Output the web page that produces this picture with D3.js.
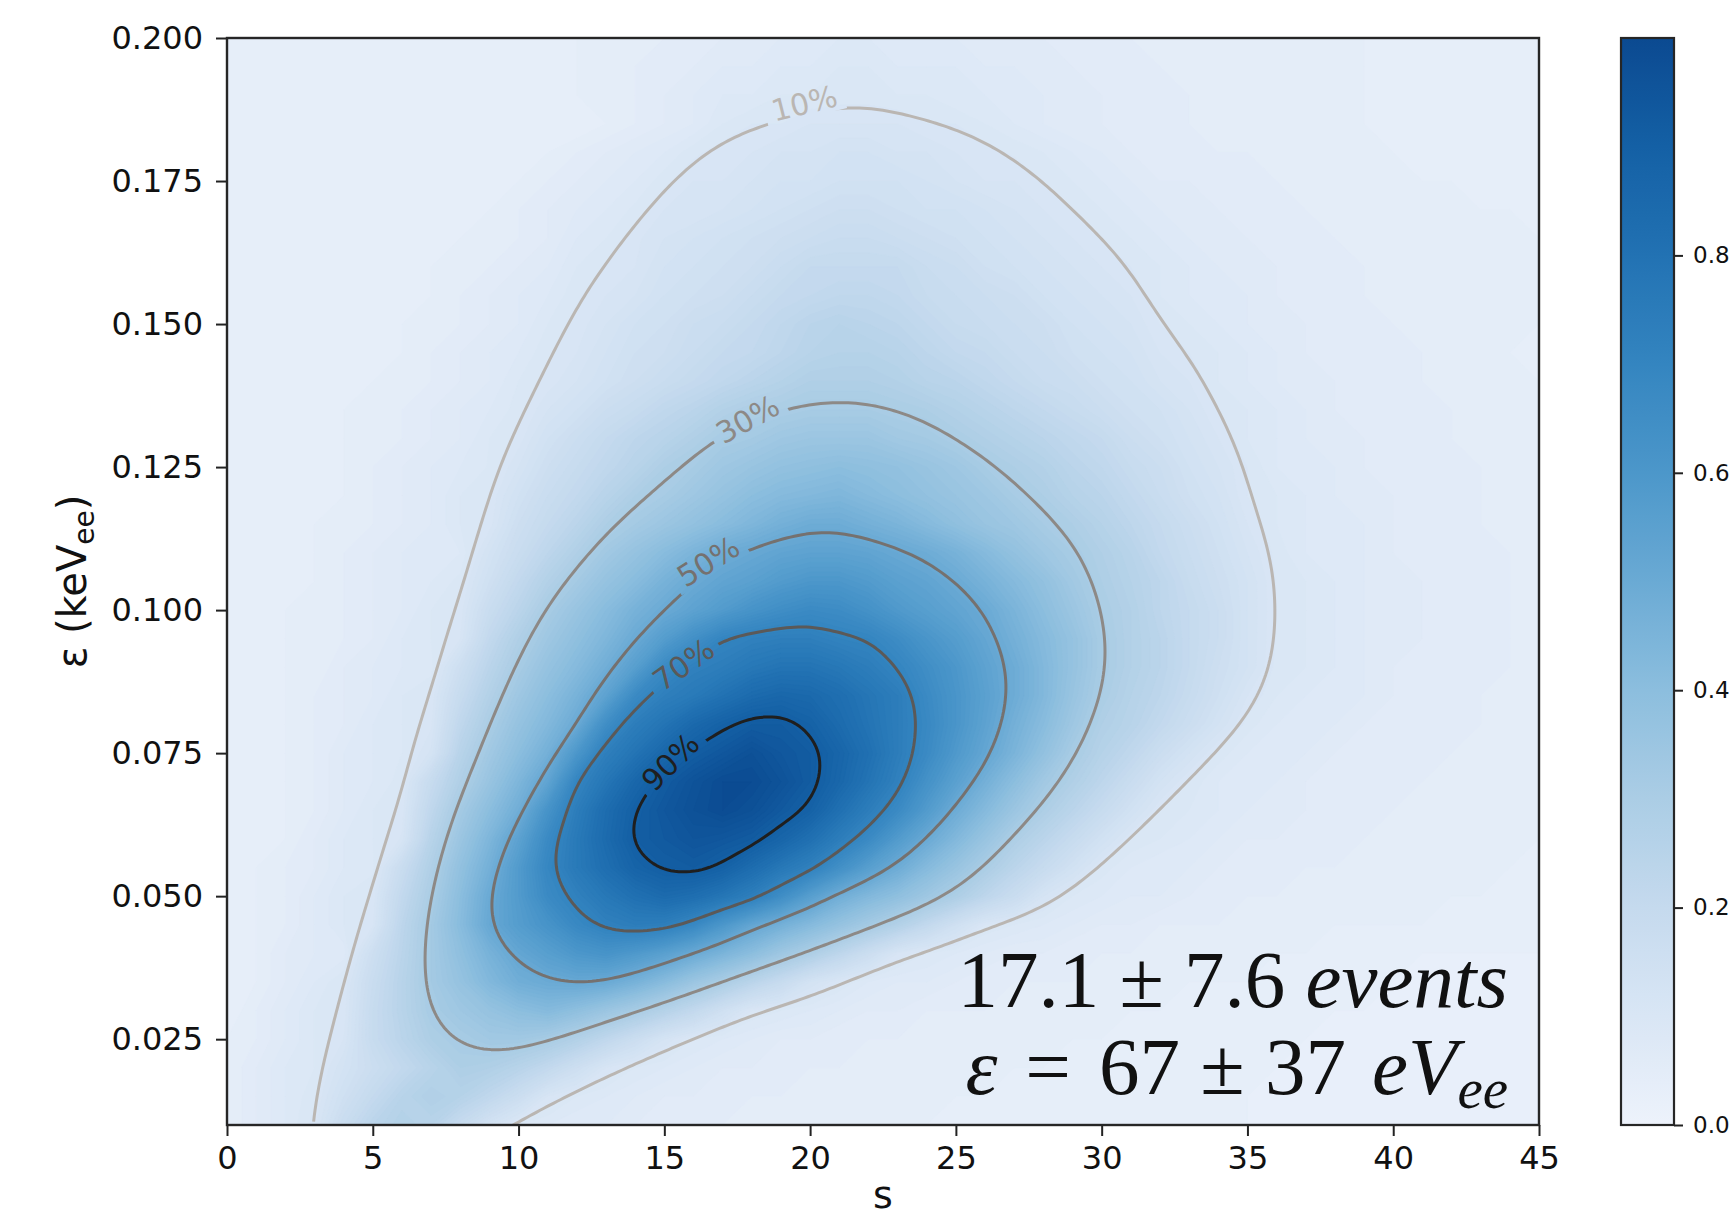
<!DOCTYPE html>
<html>
<head>
<meta charset="utf-8">
<script src="https://cdn.jsdelivr.net/npm/d3@7"></script>
<style>
  body { margin: 0; background: #ffffff; }
  svg text { font-family: "DejaVu Sans", sans-serif; }
</style>
</head>
<body>
<svg id="chart" width="1736" height="1220"></svg>
<script>
// Grid of the likelihood surface: s (columns) and ε in keVee (rows, ascending)
const sGrid = [0,1,2,3,4,5,6,7,8,9,10,11,12,13,14,15,16,17,18,19,20,21,22,23,24,25,26,27,28,29,30,31,32,33,34,35,36,37,38,39,40,41,42,43,44,45];
const epsGrid = [0.010,0.015,0.020,0.025,0.030,0.035,0.040,0.045,0.050,0.055,0.060,0.065,0.070,0.075,0.080,0.085,0.090,0.095,0.100,0.105,0.110,0.115,0.120,0.125,0.130,0.135,0.140,0.145,0.150,0.155,0.160,0.165,0.170,0.175,0.180,0.185,0.190,0.195,0.200];

// Normalised likelihood in percent, one row per ε value, one entry per s value
const likelihoodPct = [
  [4,6,8,10.5,18,24,27,25,19,13,9,8,7,7,6,5,5,5,4,4,4,4,4,4,4,3,3,3,3,3,3,3,3,3,3,3,2,2,2,2,2,2,2,2,2,2],
  [4,6,8,9.7,15,20,25,28,26,22,17,11,9,8,7,6,6,5,5,5,4,4,4,4,4,4,4,3,3,3,3,3,3,3,3,3,2,2,2,2,2,2,2,2,2,2],
  [4,6,8,9,13,17,21,25,29,28,25,21,16,11,9,8,7,6,6,5,5,5,4,4,4,4,4,4,4,3,3,3,3,3,3,3,3,2,2,2,2,2,2,2,2,2],
  [4,5,7,9,11,19,24,29,31,33,33,31,27,22,17,12,9,8,7,6,6,5,5,5,4,4,4,4,4,4,4,3,3,3,3,3,3,3,2,2,2,2,2,2,2,2],
  [3,5,7,9,10.3,19,25,31,34,37,40,42,39,35,31,26,21,15,10,9,8,7,6,6,5,5,5,4,4,4,4,4,4,3,3,3,3,3,3,3,2,2,2,2,2,2],
  [3,4,6,8,10,18,25,32,37,43,48,50,51,50,46,41,35,30,24,19,13,10,8,7,7,6,5,5,5,5,4,4,4,4,4,4,3,3,3,3,3,2,2,2,2,2],
  [3,4,6,7,7.4,16,24,32,39,46,52,56,60,62,59,55,50,45,40,34,29,23,17,11,9,8,7,6,6,5,5,5,4,4,4,4,4,4,3,3,3,3,3,3,3,3],
  [3,4,5,7,9,10.8,23,32,41,51,57,62,68,72,74,73,68,60,52,47,42,37,32,27,21,15,10,9,8,7,6,6,5,5,5,4,4,4,4,4,4,4,3,3,3,3],
  [3,4,5,7,9,10.2,21,30,40,50,58,67,72,77,81,84,82,78,73,65,56,48,43,39,34,29,23,18,12,9,8,7,7,6,5,5,5,4,4,4,4,4,4,4,3,3],
  [3,4,5,6,8,8.6,18,28,38,47,58,69,76,82,88,91,92,89,83,77,72,64,56,49,42,36,30,24,19,14,9.6,8,7,7,6,5,5,5,5,4,4,4,4,4,4,3],
  [3,3,4,6,8,9,11.2,25,35,44,54,67,76,84,91,93,95,94,92,87,81,74,67,58,50,43,36,29,24,19,14,9.9,9,8,7,6,6,5,5,5,4,4,4,4,4,4],
  [3,3,4,5,7,9,10.3,22,32,40,48,62,74,83,90,94,97,99,97,93,89,81,74,67,58,49,42,35,29,24,19,14,9.9,9,8,7,6,6,5,5,5,4,4,4,4,4],
  [3,3,4,5,7,8,9.5,19,28,36,44,53,70,78,86,92,96,99,99,96,92,86,79,72,63,55,47,40,33,28,23,18,13,9.8,8,7,7,6,5,5,5,5,4,4,4,4],
  [3,3,4,5,7,8,9,12.3,25,33,40,47,60,73,79,86,91,94,97,94,92,87,81,74,67,59,52,45,38,31,26,22,17,13,9.6,8,7,7,6,5,5,5,5,4,4,4],
  [3,3,4,5,6,8,9,10.7,22,30,37,43,50,65,74,79,85,89,92,92,89,84,79,74,68,61,54,47,41,34,28,25,21,17,13,9.5,8,7,7,6,5,5,5,5,4,4],
  [3,3,4,5,6,7,9,10.1,19,27,34,40,46,54,67,73,76,80,84,86,85,82,78,74,67,61,55,49,43,36,30,26,23,19,15,11,9,8,7,7,6,5,5,5,4,4],
  [3,3,4,4,6,7,8,8.5,16,24,31,37,42,48,56,67,72,74,77,79,79,77,74,70,65,60,54,49,43,37,31,27,24,20,16,13,9.6,9,8,7,6,5,5,5,5,4],
  [3,3,4,4,5,6,8,9,11,21,28,34,39,44,50,57,64,70,72,73,73,71,70,66,61,57,52,47,42,37,31,27,24,20,17,13,9.9,9,8,7,6,6,5,5,5,4],
  [3,3,4,4,5,6,7,9,10.3,18,24,31,36,41,46,50,54,58,62,65,67,66,63,59,56,53,50,45,40,35,30,27,23,20,17,13,10,9,8,7,6,6,5,5,5,4],
  [3,3,3,4,5,6,7,8,9.4,15,21,27,32,37,41,46,50,53,55,58,60,60,58,55,53,50,46,42,38,33,29,26,23,19,16,13,9.9,9,8,7,6,6,5,5,5,4],
  [3,3,3,4,5,6,7,7.5,8,13,18,23,28,33,37,41,45,49,51,53,54,54,53,51,49,46,42,38,34,31,28,25,21,18,15,12,9.6,8,7,7,6,5,5,5,5,4],
  [3,3,3,4,4,5,6,7,9,10.4,16,20,24,29,32,35,38,41,44,47,49,49,47,45,42,39,36,34,31,29,26,23,20,17,14,11,9,8,7,7,6,5,5,5,4,4],
  [3,3,3,3,4,5,6,7,9,10,14,18,21,25,29,31,34,37,40,42,43,44,42,40,38,36,34,31,29,26,24,21,18,15,13,10,9,8,7,6,6,5,5,5,4,4],
  [3,3,3,3,4,5,6,7,8,9.1,12,16,19,22,25,29,31,34,36,38,39,40,39,38,36,34,31,29,27,24,22,19,17,14,12,10,8,7,7,6,5,5,5,5,4,4],
  [3,3,3,3,4,4,5,6,7,9,10.4,14,17,20,23,25,28,31,32,34,35,35,35,33,32,30,28,26,24,22,20,17,15,13,11,9,8,7,6,6,5,5,5,4,4,4],
  [3,3,3,3,4,4,5,6,7,8,9.5,12,14,17,19,22,24,27,29,30,31,31,31,30,29,27,25,23,21,19,17,15,14,12,10,9,8,7,6,5,5,5,5,4,4,4],
  [3,3,3,3,3,4,4,5,6,7,9,10.4,12,14,16,18,20,22,24,26,28,28,28,27,25,24,22,20,18,17,15,14,12,11,9,8,7,6,6,5,5,5,4,4,4,4],
  [3,3,3,3,3,3,4,5,6,7,8,9.8,11,13,15,16,18,20,21,23,25,26,26,25,23,21,20,18,17,15,14,13,11,10,9,8,7,6,5,5,5,5,4,4,4,3],
  [3,3,3,3,3,3,4,4,5,6,7,9,10.4,12,14,15,17,18,20,22,24,25,24,23,21,19,18,17,16,14,13,12,10,9,8,7,6,6,5,5,5,4,4,4,4,4],
  [3,3,3,3,3,3,3,4,5,6,7,8,9.8,11,12,14,15,16,18,20,21,22,22,21,19,18,17,16,14,13,12,11,9,8,7,7,6,5,5,5,4,4,4,4,4,4],
  [3,3,3,3,3,3,3,4,4,5,6,7,9,10.1,11,13,14,15,16,18,20,20,20,20,18,17,15,14,13,12,11,10,9,8,7,6,6,5,5,5,4,4,4,4,4,4],
  [3,3,3,3,3,3,3,3,4,4,5,6,8,9,10.7,12,13,14,15,16,17,18,18,17,16,15,14,13,12,11,10,9,8,7,6,6,5,5,5,4,4,4,4,4,4,4],
  [3,3,3,3,3,3,3,3,3,4,5,6,7,8,9.3,11,11,12,13,14,15,16,16,15,14,14,13,12,11,10,9,8,7,6,6,5,5,5,4,4,4,4,4,4,4,3],
  [3,3,3,3,3,3,3,3,3,3,4,5,6,7,8,9.6,11,11,12,13,13,14,14,14,13,12,11,11,10,9,8,7,6,6,5,5,5,4,4,4,4,4,4,3,3,3],
  [3,3,3,3,3,3,3,3,3,3,3,4,5,6,7,8,9.7,10.6,11,12,12,13,13,12,12,11,10.5,9.8,9,8,7,6,5,5,5,5,4,4,4,4,4,3,3,3,3,3],
  [3,3,3,3,3,3,3,3,3,3,3,3,3,4,5,6,7,9,10,10,11,11,11,11,10,10,9,8,7,6,6,5,5,5,4,4,4,4,4,4,3,3,3,3,3,3],
  [3,3,3,3,3,3,3,3,3,3,3,3,4,4,5,6,7,8,8,9,9,9.5,9.5,9,9,8,8,7,7,6,6,5,5,5,4,4,4,4,4,4,3,3,3,3,3,3],
  [3,3,3,3,3,3,3,3,3,3,3,3,4,4,5,5,6,7,7,8,8,9,9,8,8,8,7,7,6,6,5,5,5,4,4,4,4,4,4,4,3,3,3,3,3,3],
  [3,3,3,3,3,3,3,3,3,3,3,3,4,4,4,5,5,6,6,7,7,8,8,7,7,7,6,6,6,5,5,5,4,4,4,4,4,4,4,4,3,3,3,3,3,3]
];

// Confidence contour levels and their labels
const contourLevels = [0.1, 0.3, 0.5, 0.7, 0.9];
const contourNames = ["10%", "30%", "50%", "70%", "90%"];

// Axis ticks
const sTicks = [0, 5, 10, 15, 20, 25, 30, 35, 40, 45];
const epsTicks = [0.025, 0.050, 0.075, 0.100, 0.125, 0.150, 0.175, 0.200];
const cbarTicks = [0.0, 0.2, 0.4, 0.6, 0.8];

// ---- layout & style ----
const W = 1736, H = 1220;
const plot = { left: 227, top: 38, right: 1539, bottom: 1125 };
const cbar = { left: 1621, right: 1674 };

const lineStyle = [
  { stroke: "#bab6b2", label: { s: 19.8, e: 0.1886, angle: -14 } },
  { stroke: "#8d8986", label: { s: 17.85, e: 0.1334, angle: -29 } },
  { stroke: "#75716f", label: { s: 16.5, e: 0.1085, angle: -32 } },
  { stroke: "#5b5958", label: { s: 15.65, e: 0.0905, angle: -35 } },
  { stroke: "#1f1f1f", label: { s: 15.2, e: 0.0735, angle: -45 } }
];

const x = d3.scaleLinear().domain([0, 45]).range([plot.left, plot.right]);
const y = d3.scaleLinear().domain([0.01, 0.2]).range([plot.bottom, plot.top]);

const color = d3.scaleLinear()
  .domain([0, 0.1, 0.2, 0.3, 0.4, 0.5, 0.6, 0.7, 0.8, 0.9, 1.0])
  .range(["#edf2fb", "#d9e6f5", "#c5daee", "#abcde5", "#8cbede", "#6aaad4", "#4c97ca", "#3485c0", "#2272b3", "#1460a5", "#0b4a91"])
  .clamp(true);

const svg = d3.select("#chart");
const defs = svg.append("defs");

defs.append("clipPath").attr("id", "plotClip")
  .append("rect")
  .attr("x", plot.left).attr("y", plot.top)
  .attr("width", plot.right - plot.left).attr("height", plot.bottom - plot.top);

// grid coordinates from d3.contours -> data space
const nx = sGrid.length, ny = epsGrid.length;
const dS = sGrid[1] - sGrid[0], dE = epsGrid[1] - epsGrid[0];
const gridS = gx => sGrid[0] + (gx - 0.5) * dS;
const gridE = gy => epsGrid[0] + (gy - 0.5) * dE;
const toXY = p => [x(gridS(p[0])), y(gridE(p[1]))];
const values = likelihoodPct.flat().map(v => v / 100);

const toScreen = d3.geoTransform({
  point(px, py) { this.stream.point(x(gridS(px)), y(gridE(py))); }
});
const geoPath = d3.geoPath(toScreen);

// ---- heat map as finely banded filled contours ----
const bandLevels = d3.range(0, 100).map(v => v / 100);
const bands = d3.contours().size([nx, ny]).thresholds(bandLevels)(values);
svg.append("g").attr("clip-path", "url(#plotClip)")
  .selectAll("path").data(bands).join("path")
  .attr("d", geoPath)
  .attr("fill", d => color(d.value + 0.005))
  .attr("stroke", d => color(d.value + 0.005))
  .attr("stroke-width", 0.6);

// ---- contour labels (drawn first to measure the gaps) ----
const labelLayer = svg.append("g").attr("clip-path", "url(#plotClip)");
const gaps = [];
contourLevels.forEach((lv, i) => {
  const st = lineStyle[i];
  const cx = x(st.label.s), cy = y(st.label.e);
  const t = labelLayer.append("text")
    .attr("transform", `translate(${cx},${cy}) rotate(${st.label.angle})`)
    .attr("text-anchor", "middle")
    .attr("dy", "0.36em")
    .attr("font-size", 30)
    .attr("fill", st.stroke)
    .text(contourNames[i]);
  const w = t.node().getComputedTextLength();
  gaps.push({ cx, cy, angle: st.label.angle, w: w + 14, h: 30 });
});

const mask = defs.append("mask").attr("id", "labelGaps")
  .attr("maskUnits", "userSpaceOnUse")
  .attr("x", 0).attr("y", 0).attr("width", W).attr("height", H);
mask.append("rect").attr("width", W).attr("height", H).attr("fill", "white");
gaps.forEach(g => {
  mask.append("rect")
    .attr("transform", `translate(${g.cx},${g.cy}) rotate(${g.angle})`)
    .attr("x", -g.w / 2).attr("y", -g.h / 2)
    .attr("width", g.w).attr("height", g.h)
    .attr("fill", "black");
});

// ---- contour lines ----
// Screen-space polyline is resampled evenly and lightly low-pass filtered so the
// marching-squares steps do not show; rings running along the grid border become open arcs.
const STEP = 4;
function resample(pts, closed) {
  const src = closed ? pts.concat([pts[0]]) : pts;
  const out = [src[0]];
  let carry = 0;
  for (let i = 1; i < src.length; i++) {
    const [x0, y0] = src[i - 1], [x1, y1] = src[i];
    const len = Math.hypot(x1 - x0, y1 - y0);
    if (len === 0) continue;
    let t = STEP - carry;
    while (t <= len) {
      out.push([x0 + (x1 - x0) * t / len, y0 + (y1 - y0) * t / len]);
      t += STEP;
    }
    carry = len - (t - STEP);
  }
  if (!closed) out.push(src[src.length - 1]);
  return out;
}
function lowPass(pts, closed) {
  const n = pts.length;
  const k = Math.max(3, Math.min(8, Math.round(n * STEP / 250)));
  let p = pts;
  for (let pass = 0; pass < 3; pass++) {
    p = p.map((_, i) => {
      let sx = 0, sy = 0, c = 0;
      for (let j = -k; j <= k; j++) {
        let idx = i + j;
        idx = closed ? ((idx % n) + n) % n : Math.max(0, Math.min(n - 1, idx));
        sx += p[idx][0]; sy += p[idx][1]; c++;
      }
      return [sx / c, sy / c];
    });
  }
  return p;
}
const closedLine = d3.line().curve(d3.curveLinearClosed);
const openLine = d3.line();
function ringToPaths(ring) {
  const pts = ring.slice(0, -1);
  const onEdge = p => p[0] <= 0 || p[0] >= nx || p[1] <= 0 || p[1] >= ny;
  if (!pts.some(onEdge)) {
    return [closedLine(lowPass(resample(pts.map(toXY), true), true))];
  }
  const k = pts.findIndex(onEdge);
  const rot = pts.slice(k).concat(pts.slice(0, k), [pts[k]]);
  const out = [];
  let run = [];
  rot.forEach(p => {
    if (onEdge(p)) {
      if (run.length) { run.push(p); if (run.length > 2) out.push(run); }
      run = [p];
    } else {
      run.push(p);
    }
  });
  return out.map(r => openLine(lowPass(resample(r.map(toXY), false), false)));
}

const lineGroup = svg.append("g").attr("clip-path", "url(#plotClip)")
  .append("g").attr("mask", "url(#labelGaps)");
const lines = d3.contours().size([nx, ny]).thresholds(contourLevels)(values);
lines.forEach((c, i) => {
  c.coordinates.forEach(poly => poly.forEach(ring => {
    ringToPaths(ring).forEach(d => {
      lineGroup.append("path")
        .attr("d", d)
        .attr("fill", "none")
        .attr("stroke", lineStyle[i].stroke)
        .attr("stroke-width", 3)
        .attr("stroke-linejoin", "round");
    });
  }));
});
labelLayer.raise();

// ---- axes ----
const tickFont = 32;
const xAxisG = svg.append("g")
  .attr("transform", `translate(0,${plot.bottom})`)
  .call(d3.axisBottom(x).tickValues(sTicks).tickSize(11).tickPadding(10).tickFormat(d3.format("d")));
const yAxisG = svg.append("g")
  .attr("transform", `translate(${plot.left},0)`)
  .call(d3.axisLeft(y).tickValues(epsTicks).tickSize(11).tickPadding(13).tickFormat(d3.format(".3f")));
[xAxisG, yAxisG].forEach(g => {
  g.select(".domain").remove();
  g.selectAll(".tick line").attr("stroke", "#222").attr("stroke-width", 2);
  g.selectAll(".tick text").attr("font-size", tickFont).attr("fill", "#111")
    .attr("font-family", "DejaVu Sans");
});

svg.append("rect")
  .attr("x", plot.left).attr("y", plot.top)
  .attr("width", plot.right - plot.left).attr("height", plot.bottom - plot.top)
  .attr("fill", "none").attr("stroke", "#262626").attr("stroke-width", 2.4);

// axis titles
svg.append("text")
  .attr("x", (plot.left + plot.right) / 2).attr("y", 1208)
  .attr("text-anchor", "middle").attr("font-size", 38).attr("fill", "#111")
  .text("s");

const yTitle = svg.append("text")
  .attr("transform", `translate(86,${(plot.top + plot.bottom) / 2}) rotate(-90)`)
  .attr("text-anchor", "middle").attr("font-size", 40).attr("fill", "#111");
yTitle.append("tspan").text("ε (keV");
yTitle.append("tspan").attr("font-size", 28).attr("dy", 8).text("ee");
yTitle.append("tspan").attr("dy", -8).text(")");

// ---- colour bar ----
const cbY = d3.scaleLinear().domain([0, 1]).range([plot.bottom, plot.top]);
const grad = defs.append("linearGradient").attr("id", "cbarGrad")
  .attr("x1", 0).attr("y1", 1).attr("x2", 0).attr("y2", 0);
d3.range(0, 1.0001, 0.02).forEach(t => {
  grad.append("stop").attr("offset", t).attr("stop-color", color(t));
});
svg.append("rect")
  .attr("x", cbar.left).attr("y", plot.top)
  .attr("width", cbar.right - cbar.left).attr("height", plot.bottom - plot.top)
  .attr("fill", "url(#cbarGrad)").attr("stroke", "#262626").attr("stroke-width", 2.2);
const cbAxis = svg.append("g")
  .attr("transform", `translate(${cbar.right},0)`)
  .call(d3.axisRight(cbY).tickValues(cbarTicks).tickSize(9).tickPadding(10).tickFormat(d3.format(".1f")));
cbAxis.select(".domain").remove();
cbAxis.selectAll(".tick line").attr("stroke", "#222").attr("stroke-width", 2);
cbAxis.selectAll(".tick text").attr("font-size", 23).attr("fill", "#111");

// ---- fit result annotation ----
const noteFont = "'Liberation Serif', 'Times New Roman', serif";
const line1 = svg.append("text")
  .attr("x", 1508).attr("y", 1007)
  .attr("text-anchor", "end").attr("font-size", 81).attr("fill", "#111")
  .style("font-family", noteFont);
line1.append("tspan").text("17.1 ± 7.6 ");
line1.append("tspan").attr("font-style", "italic").text("events");

const line2 = svg.append("text")
  .attr("x", 1508).attr("y", 1094)
  .attr("text-anchor", "end").attr("font-size", 81).attr("fill", "#111")
  .style("font-family", noteFont);
line2.append("tspan").attr("font-style", "italic").text("ε");
line2.append("tspan").attr("dx", 28).text("=");
line2.append("tspan").attr("dx", 28).text("67 ± 37");
line2.append("tspan").attr("dx", 26).attr("font-style", "italic").text("eV");
line2.append("tspan").attr("font-style", "italic").attr("font-size", 57).attr("dy", 14).text("ee");
</script>
</body>
</html>
